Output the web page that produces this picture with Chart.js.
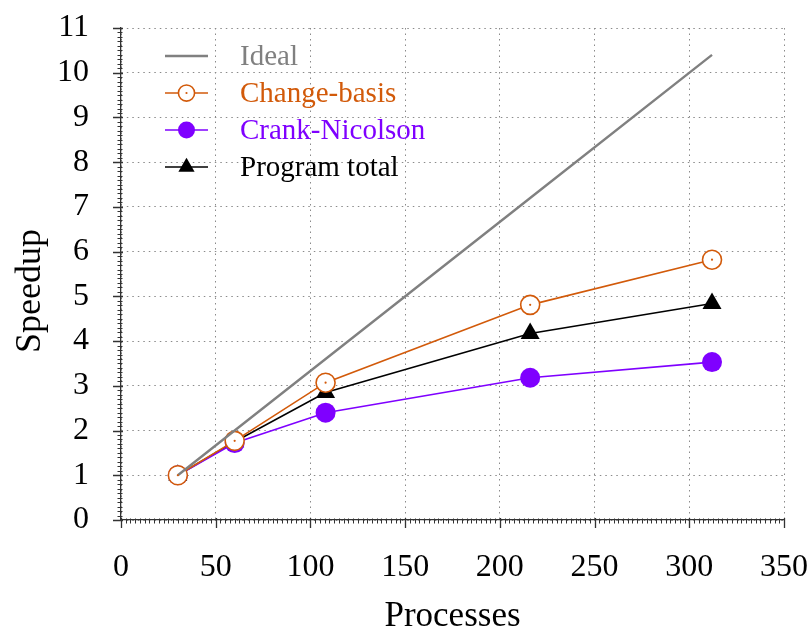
<!DOCTYPE html>
<html><head><meta charset="utf-8">
<script src="https://cdn.jsdelivr.net/npm/chart.js@4/dist/chart.umd.min.js"></script>
<style>html,body{margin:0;padding:0;background:#fff}#wrap{width:812px;height:630px}</style>
</head><body><div id="wrap"><canvas id="c" width="812" height="630"></canvas></div>
<script>
// ---- data ----
const processes = [30, 60, 108, 216, 312];
const ideal = [1, 2, 3.6, 7.2, 10.4];
const changeBasis = [1, 1.77, 3.07, 4.81, 5.82];
const crankNicolson = [1, 1.72, 2.40, 3.18, 3.53];
const programTotal = [1, 1.75, 2.85, 4.17, 4.84];
const seriesLabels = ['Ideal', 'Change-basis', 'Crank-Nicolson', 'Program total'];
const xTickValues = [0, 50, 100, 150, 200, 250, 300, 350];
const yTickValues = [0, 1, 2, 3, 4, 5, 6, 7, 8, 9, 10, 11];
const xTitle = 'Processes';
const yTitle = 'Speedup';

const SERIF = "'Liberation Serif', 'Times New Roman', serif";
const GRAY = '#808080', ORANGE = '#D25A0A', VIOLET = '#7F00FF', BLACK = '#000000';

const pts = (ys) => processes.map((x, i) => ({x: x, y: ys[i]}));

const datasets = [
  {label: seriesLabels[0], data: pts(ideal), borderColor: GRAY, backgroundColor: GRAY,
   borderWidth: 2.4, pointRadius: 0, order: 0},
  {label: seriesLabels[1], data: pts(changeBasis), borderColor: ORANGE, backgroundColor: '#ffffff',
   borderWidth: 1.6, pointRadius: 9.5, pointBorderWidth: 1.6, pointStyle: 'circle', order: 1, _dot: true},
  {label: seriesLabels[2], data: pts(crankNicolson), borderColor: VIOLET, backgroundColor: VIOLET,
   borderWidth: 1.6, pointRadius: 10, pointBorderWidth: 0, pointStyle: 'circle', order: 2},
  {label: seriesLabels[3], data: pts(programTotal), borderColor: BLACK, backgroundColor: BLACK,
   borderWidth: 1.6, pointRadius: 11, pointBorderWidth: 0, pointStyle: 'triangle', order: 3}
];

const decor = {
  id: 'decor',
  afterDatasetsDraw(chart) {
    const ctx = chart.ctx;
    chart.data.datasets.forEach((ds, i) => {
      if (!ds._dot) return;
      const meta = chart.getDatasetMeta(i);
      ctx.save();
      ctx.fillStyle = ds.borderColor;
      meta.data.forEach(p => { ctx.beginPath(); ctx.arc(p.x, p.y, 1.1, 0, Math.PI * 2); ctx.fill(); });
      ctx.restore();
    });
  },
  afterDraw(chart) {
    const ctx = chart.ctx;
    const xs = chart.scales.x, ys = chart.scales.y;
    const ca = chart.chartArea;
    ctx.save();
    ctx.strokeStyle = '#333';
    ctx.lineWidth = 1;
    // minor ticks
    ctx.beginPath();
    for (let k = 0; k <= 140; k++) {
      const px = Math.round(xs.getPixelForValue(k * 2.5)) + 0.5;
      ctx.moveTo(px, ca.bottom - 1.5); ctx.lineTo(px, ca.bottom + 3.5);
    }
    for (let k = 0; k <= 110; k++) {
      const py = Math.round(ys.getPixelForValue(k / 10)) + 0.5;
      ctx.moveTo(ca.left + 1.5, py); ctx.lineTo(ca.left - 3.5, py);
    }
    ctx.stroke();
    // major ticks
    ctx.lineWidth = 1.3;
    ctx.beginPath();
    xTickValues.forEach(v => {
      const px = Math.round(xs.getPixelForValue(v)) + 0.5;
      ctx.moveTo(px, ca.bottom - 2); ctx.lineTo(px, ca.bottom + 8);
    });
    yTickValues.forEach(v => {
      const py = Math.round(ys.getPixelForValue(v)) + 0.5;
      ctx.moveTo(ca.left + 2, py); ctx.lineTo(ca.left - 8, py);
    });
    ctx.stroke();

    // axis titles
    ctx.fillStyle = '#000';
    ctx.font = '35px ' + SERIF;
    ctx.textAlign = 'center';
    ctx.textBaseline = 'alphabetic';
    ctx.fillText(xTitle, (ca.left + ca.right) / 2, 626);
    ctx.save();
    ctx.translate(40, 291);
    ctx.rotate(-Math.PI / 2);
    ctx.font = '36px ' + SERIF;
    ctx.fillText(yTitle, 0, 0);
    ctx.restore();

    // legend
    const rows = [56, 93, 130, 167];
    ctx.font = '29px ' + SERIF;
    ctx.textAlign = 'left';
    chart.data.datasets.forEach((ds, i) => {
      const y = rows[i];
      ctx.strokeStyle = ds.borderColor;
      ctx.lineWidth = ds.borderWidth;
      ctx.beginPath(); ctx.moveTo(165, y); ctx.lineTo(208, y); ctx.stroke();
      if (ds.pointRadius > 0) {
        ctx.fillStyle = ds.backgroundColor;
        ctx.strokeStyle = ds.borderColor;
        ctx.lineWidth = ds.pointBorderWidth;
        Chart.helpers.drawPoint(ctx, {pointStyle: ds.pointStyle, radius: ds.pointRadius * 0.85,
          borderWidth: ds.pointBorderWidth, rotation: 0}, 186.5, y);
        if (ds._dot) { ctx.fillStyle = ds.borderColor; ctx.beginPath(); ctx.arc(186.5, y, 1.1, 0, Math.PI * 2); ctx.fill(); }
      }
      ctx.fillStyle = ds.borderColor;
      ctx.fillText(ds.label, 240, y + 9);
    });
    ctx.restore();
  }
};

const noPad = s => { s.paddingLeft = 0; s.paddingRight = 0; s.paddingTop = 0; s.paddingBottom = 0; };

new Chart(document.getElementById('c'), {
  type: 'line',
  data: {datasets: datasets},
  plugins: [decor],
  options: {
    responsive: false,
    animation: false,
    devicePixelRatio: 1,
    layout: {padding: {top: 28, right: 28, left: 0, bottom: 0}},
    plugins: {legend: {display: false}, tooltip: {enabled: false}},
    elements: {line: {tension: 0}},
    scales: {
      x: {
        type: 'linear', min: 0, max: 350,
        afterFit: s => { s.height = 110; noPad(s); },
        afterBuildTicks: s => { s.ticks = xTickValues.map(v => ({value: v})); },
        ticks: {font: {family: SERIF, size: 32}, color: '#000', padding: 28, maxRotation: 0,
                callback: v => String(v)},
        grid: {color: '#8a8a8a', lineWidth: 1, drawTicks: false},
        border: {display: true, color: '#333', width: 1.3, dash: [1.5, 4]}
      },
      y: {
        type: 'linear', min: 0, max: 11,
        afterFit: s => { s.width = 121; noPad(s); },
        afterBuildTicks: s => { s.ticks = yTickValues.map(v => ({value: v})); },
        ticks: {font: {family: SERIF, size: 32}, color: '#000', padding: 32,
                callback: v => String(v)},
        grid: {color: '#8a8a8a', lineWidth: 1, drawTicks: false},
        border: {display: true, color: '#333', width: 1.3, dash: [1.5, 4]}
      }
    }
  }
});
</script></body></html>
